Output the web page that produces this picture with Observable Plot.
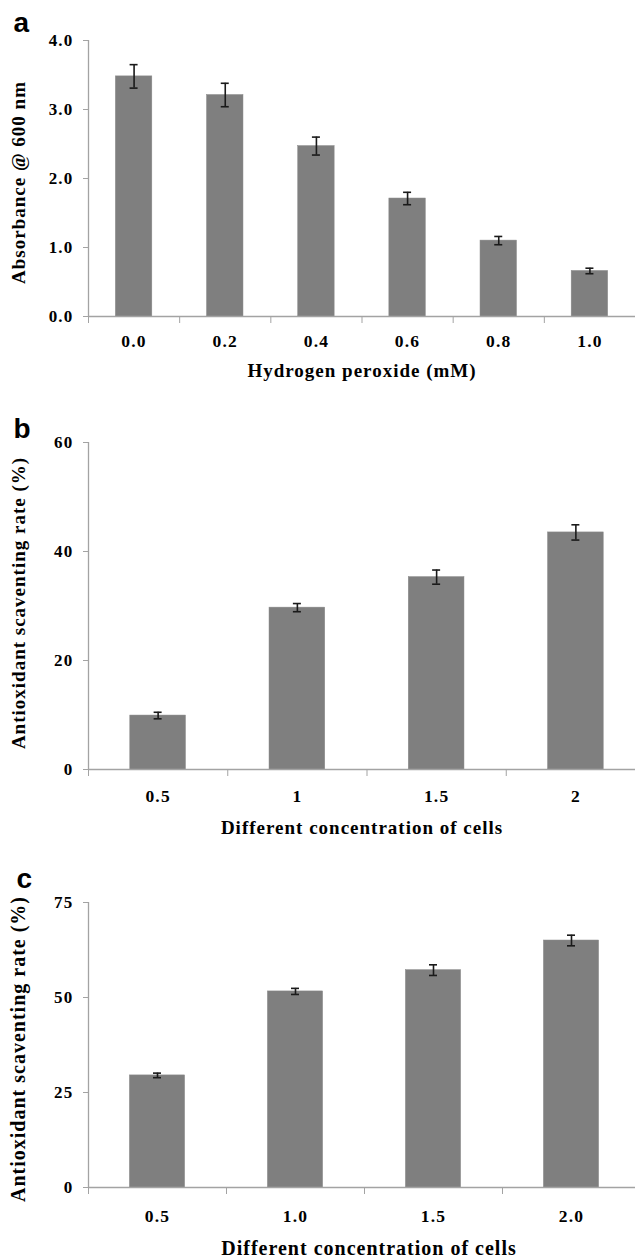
<!DOCTYPE html>
<html>
<head>
<meta charset="utf-8">
<script src="https://cdn.jsdelivr.net/npm/d3@7"></script>
<script src="https://cdn.jsdelivr.net/npm/@observablehq/plot@0.6"></script>
<style>
  html, body { margin: 0; padding: 0; background: #fff; overflow: hidden; width: 635px; height: 1258px; }
  #root svg { display: block; font-family: "Liberation Serif", "Times New Roman", serif; }
  #root g[aria-label$="tick label"] text { letter-spacing: 1.2px; }
  #root g[aria-label="text"] text { letter-spacing: 1px; }
</style>
</head>
<body>
<div id="root"></div>
<script>
// Panel a
const catsA = ["0.0", "0.2", "0.4", "0.6", "0.8", "1.0"];
const valsA = [3.48, 3.21, 2.47, 1.71, 1.10, 0.66];
const errsA = [0.17, 0.17, 0.13, 0.09, 0.06, 0.04];
const ticksA = [0, 1, 2, 3, 4];
const yLabelA = "Absorbance @ 600 nm";
const xLabelA = "Hydrogen peroxide (mM)";

// Panel b
const catsB = ["0.5", "1", "1.5", "2"];
const valsB = [9.9, 29.7, 35.3, 43.5];
const errsB = [0.6, 0.75, 1.3, 1.4];
const ticksB = [0, 20, 40, 60];
const yLabelB = "Antioxidant scaventing rate (%)";
const xLabelB = "Different concentration of cells";

// Panel c
const catsC = ["0.5", "1.0", "1.5", "2.0"];
const valsC = [29.5, 51.6, 57.2, 65.0];
const errsC = [0.6, 0.8, 1.4, 1.4];
const ticksC = [0, 25, 50, 75];
const yLabelC = "Antioxidant scaventing rate (%)";
const xLabelC = "Different concentration of cells";

const SERIF = "Liberation Serif";
const SANS = "Liberation Sans";
const AXIS = "#a3a3a3";

function panel(o) {
  const n = o.cats.length;
  const data = o.cats.map((c, i) => ({i, c, v: o.vals[i], e: o.errs[i]}));
  const cap = 4 / ((o.xRange[1] - o.xRange[0]) / n);
  return Plot.plot({
    width: 635,
    height: o.height,
    marginLeft: 88,
    marginRight: 0,
    marginTop: o.marginTop,
    marginBottom: o.marginBottom,
    style: {fontWeight: "bold", color: "black", background: "white"},
    x: {type: "linear", domain: [0, n], range: o.xRange},
    y: {domain: [0, o.yTicks[o.yTicks.length - 1]]},
    marks: [
      Plot.rectY(data, {x1: d => d.i + 0.3, x2: d => d.i + 0.7, y1: 0, y2: "v", fill: "#7f7f7f", stroke: "#8a8a8a", strokeWidth: 0.5}),
      Plot.ruleX(data, {x: d => d.i + 0.5, y1: d => d.v - d.e, y2: d => d.v + d.e, stroke: "#1a1a1a", strokeWidth: 1.6}),
      Plot.ruleY(data, {y: d => d.v + d.e, x1: d => d.i + 0.5 - cap, x2: d => d.i + 0.5 + cap, stroke: "#1a1a1a", strokeWidth: 1.6}),
      Plot.ruleY(data, {y: d => d.v - d.e, x1: d => d.i + 0.5 - cap, x2: d => d.i + 0.5 + cap, stroke: "#1a1a1a", strokeWidth: 1.6}),
      Plot.ruleY([0], {stroke: AXIS, strokeWidth: 1.3}),
      Plot.ruleX([0], {y1: 0, y2: o.yTicks[o.yTicks.length - 1], stroke: AXIS, strokeWidth: 1.3}),
      Plot.axisY({ticks: o.yTicks, tickFormat: o.yFormat, tickSize: 5, tickPadding: 10, stroke: AXIS, fill: "black", fontSize: 17, fontWeight: "bold", fontFamily: SERIF, label: null}),
      Plot.axisX({ticks: d3.range(n + 1), tickSize: 7, tickFormat: () => "", stroke: AXIS, label: null}),
      Plot.axisX({ticks: d3.range(n).map(i => i + 0.5), tickSize: 0, tickPadding: o.xPad, tickFormat: d => o.cats[Math.round(d - 0.5)], fill: "black", fontSize: 17.5, fontWeight: "bold", fontFamily: SERIF, label: null}),
      Plot.text([o.xLabel], {frameAnchor: "bottom", textAnchor: "middle", dx: o.xTitleDx, dy: o.xTitleDy, lineAnchor: "middle", fontSize: o.titleSize, fontWeight: "bold", fontFamily: SERIF, fill: "black"}),
      Plot.text([o.yLabel], {frameAnchor: "left", textAnchor: "middle", rotate: -90, dx: -70, dy: o.yTitleDy, lineAnchor: "middle", fontSize: o.titleSize, fontWeight: "bold", fontFamily: SERIF, fill: "black"}),
      Plot.text([o.letter], {frameAnchor: "top-left", textAnchor: "start", lineAnchor: "bottom", dx: o.letterDx, dy: o.letterDy, fontSize: 28, fontWeight: "bold", fontFamily: SANS, fill: "black"})
    ]
  });
}

const root = document.getElementById("root");
root.append(panel({
  cats: catsA, vals: valsA, errs: errsA, yTicks: ticksA, yFormat: d3.format(".1f"),
  yLabel: yLabelA, xLabel: xLabelA, letter: "a",
  height: 395, marginTop: 40, marginBottom: 79, xRange: [88, 635],
  xPad: 18, xTitleDx: 0, xTitleDy: 54, yTitleDy: 4, titleSize: 19, letterDx: -75, letterDy: -9
}));
root.append(panel({
  cats: catsB, vals: valsB, errs: errsB, yTicks: ticksB, yFormat: d3.format("d"),
  yLabel: yLabelB, xLabel: xLabelB, letter: "b",
  height: 445, marginTop: 47, marginBottom: 71, xRange: [88, 645],
  xPad: 20, xTitleDx: 0, xTitleDy: 58, yTitleDy: -3, titleSize: 19, letterDx: -75, letterDy: -5
}));
root.append(panel({
  cats: catsC, vals: valsC, errs: errsC, yTicks: ticksC, yFormat: d3.format("d"),
  yLabel: yLabelC, xLabel: xLabelC, letter: "c",
  height: 418, marginTop: 62, marginBottom: 71, xRange: [88, 640],
  xPad: 22, xTitleDx: 7, xTitleDy: 61, yTitleDy: 4, titleSize: 20, letterDx: -72, letterDy: -15
}));
</script>
</body>
</html>
